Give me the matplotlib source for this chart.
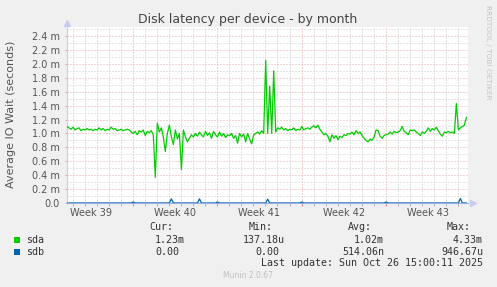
import matplotlib
matplotlib.use("Agg")
import matplotlib.pyplot as plt
import numpy as np
from matplotlib.ticker import FixedLocator, FuncFormatter

# ---------------- data ----------------
# time axis: days relative to Monday of week 40; samples every 4 hours
t_start = -5.48
samples_per_day = 6

sda = [1.10, 1.08, 1.06, 1.09, 1.05, 1.07, 1.08, 1.04, 1.06, 1.05,
       1.07, 1.05, 1.06, 1.04, 1.06, 1.05, 1.08, 1.05, 1.07, 1.04,
       1.06, 1.05, 1.09, 1.06, 1.07, 1.04, 1.05, 1.06, 1.04, 1.05,
       1.06, 1.05, 1.02, 1.00, 1.03, 0.98, 1.04, 1.02, 1.05, 0.97,
       1.03, 1.01, 1.04, 0.98, 0.37, 1.15, 1.02, 1.08, 0.95, 0.74,
       1.00, 1.12, 0.95, 0.84, 1.05, 0.92, 1.00, 0.48, 1.05, 0.95,
       0.88, 0.93, 0.98, 0.95, 1.00, 0.96, 1.02, 0.98, 0.95, 1.03,
       0.97, 1.01, 0.93, 1.03, 0.98, 0.95, 1.02, 0.96, 1.00, 0.94,
       0.98, 0.97, 1.00, 0.93, 0.97, 0.86, 1.00, 0.95, 0.99, 0.88,
       1.00, 0.92, 0.85, 0.98, 1.00, 1.02, 0.99, 1.04, 1.00, 2.05,
       1.00, 1.68, 1.00, 1.90, 1.02, 1.08, 1.06, 1.09, 1.05, 1.07,
       1.04, 1.06, 1.05, 1.08, 1.04, 1.06, 1.05, 1.10, 1.05, 1.07,
       1.08, 1.06, 1.09, 1.11, 1.08, 1.12, 1.06, 1.02, 0.98, 1.00,
       0.96, 0.88, 0.98, 0.93, 0.97, 0.91, 0.96, 0.94, 0.98, 0.97,
       1.00, 0.99, 1.02, 0.98, 1.04, 1.00, 1.02, 0.97, 0.93, 0.90,
       0.88, 0.92, 0.90, 0.95, 1.05, 1.04, 0.96, 0.93, 0.97, 0.98,
       0.99, 1.02, 0.99, 1.03, 1.01, 1.02, 1.04, 1.10, 1.03, 1.01,
       0.98, 1.05, 1.04, 1.05, 1.02, 1.00, 0.97, 1.02, 1.00, 1.03,
       1.08, 1.03, 1.07, 1.05, 1.09, 1.04, 0.99, 0.96, 1.02, 1.01,
       1.03, 1.01, 1.02, 1.00, 1.43, 1.05, 1.08, 1.10, 1.12, 1.23]

sdb = [0, 0, 0, 0, 0, 0, 0, 0, 0, 0, 0, 0, 0, 0, 0, 0, 0, 0, 0, 0,
       0, 0, 0, 0, 0, 0, 0, 0, 0, 0, 0, 0, 0, 0.015, 0, 0, 0, 0, 0, 0,
       0, 0, 0, 0, 0, 0, 0, 0, 0, 0, 0, 0, 0.06, 0, 0, 0, 0, 0, 0, 0,
       0, 0, 0, 0, 0, 0, 0.06, 0, 0, 0, 0, 0, 0, 0, 0, 0.015, 0, 0, 0, 0,
       0, 0, 0, 0, 0, 0, 0, 0, 0, 0, 0, 0, 0, 0, 0, 0, 0, 0, 0, 0,
       0.055, 0, 0, 0, 0, 0, 0, 0, 0, 0, 0, 0, 0, 0, 0, 0, 0, 0.015, 0, 0,
       0, 0, 0, 0, 0, 0, 0, 0, 0, 0, 0, 0, 0, 0, 0, 0, 0, 0, 0, 0,
       0, 0, 0, 0, 0, 0, 0, 0, 0, 0, 0, 0, 0, 0, 0, 0, 0, 0, 0, 0.015,
       0, 0, 0, 0, 0, 0, 0, 0, 0, 0, 0, 0, 0, 0, 0, 0, 0, 0, 0, 0,
       0, 0, 0, 0, 0, 0, 0, 0, 0, 0, 0, 0, 0, 0, 0, 0, 0.065, 0, 0, 0]

series_names = ["sda", "sdb"]
series_colors = ["#00CC00", "#0066B3"]
cur_vals = ["1.23m", "0.00"]
min_vals = ["137.18u", "0.00"]
avg_vals = ["1.02m", "514.06n"]
max_vals = ["4.33m", "946.67u"]
col_headers = ["Cur:", "Min:", "Avg:", "Max:"]

week_labels = ["Week 39", "Week 40", "Week 41", "Week 42", "Week 43"]
week_centers = [-3.5, 3.5, 10.5, 17.5, 24.5]
week_starts = [0, 7, 14, 21]
y_ticks = [0.0, 0.2, 0.4, 0.6, 0.8, 1.0, 1.2, 1.4, 1.6, 1.8, 2.0, 2.2, 2.4]

title = "Disk latency per device - by month"
ylabel = "Average IO Wait (seconds)"
last_update = "Last update: Sun Oct 26 15:00:11 2025"
footer = "Munin 2.0.67"
side_text = "RRDTOOL / TOBI OETIKER"

# ---------------- figure ----------------
W, H = 497, 287
fig = plt.figure(figsize=(W / 100, H / 100), dpi=100, facecolor="#F0F0F0")
L, R, T, B = 67, 468, 27, 203
ax = fig.add_axes([L / W, 1 - B / H, (R - L) / W, (B - T) / H])
ax.set_facecolor("white")

t = t_start + np.arange(len(sda)) / samples_per_day
ax.plot(t, sda, color=series_colors[0], lw=0.9, zorder=3)
ax.plot(t, sdb, color=series_colors[1], lw=0.9, zorder=4)

ax.set_xlim(-5.48, 27.82)
ax.set_ylim(0, 2.53)

# grid
days = np.arange(-5, 28)
ax.xaxis.set_major_locator(FixedLocator(week_starts))
ax.xaxis.set_minor_locator(FixedLocator([d for d in days if d not in week_starts]))
ax.yaxis.set_major_locator(FixedLocator(y_ticks))
ax.yaxis.set_minor_locator(FixedLocator([v + 0.1 for v in y_ticks]))
ax.grid(True, axis="x", which="major", color="#E8A0A0", lw=0.72, ls=(0, (1, 2)))
ax.grid(True, axis="x", which="minor", color="#C8C8C8", lw=0.72, ls=(0, (1, 2)))
ax.grid(True, axis="y", which="major", color="#E8A8A8", lw=0.72, ls=(0, (1, 2)))
ax.grid(True, axis="y", which="minor", color="#CCCCCC", lw=0.72, ls=(0, (1, 2)))
ax.set_axisbelow(True)

ax.set_xticklabels([])
ax.tick_params(axis="x", which="major", length=2.5, color="#E08080", width=0.7)
ax.tick_params(axis="x", which="minor", length=2, color="#B0B0B0", width=0.7)
ax.tick_params(axis="y", which="major", length=1.5, color="#E8A0A0", width=0.7,
               labelsize=7, labelcolor="#555555", pad=3.5)
ax.tick_params(axis="y", which="minor", length=0)
ax.yaxis.set_major_formatter(FuncFormatter(lambda v, p: "0.0" if v == 0 else f"{v:.1f} m"))

for sp in ["top", "right"]:
    ax.spines[sp].set_visible(False)
ax.spines["left"].set_color("#C8CCF0")
ax.spines["bottom"].set_color("#9AB0E0")
ax.spines["left"].set_linewidth(0.8)
ax.spines["bottom"].set_linewidth(0.8)
ax.plot([0], [1.025], marker="^", color="#C8CCF0", ms=4, transform=ax.transAxes, clip_on=False)
ax.plot([1.012], [0], marker=">", color="#C8CCF0", ms=4, transform=ax.transAxes, clip_on=False)

for lab, c in zip(week_labels, week_centers):
    ax.text(c, -0.055, lab, transform=ax.get_xaxis_transform(), ha="center", va="center",
            fontsize=7, color="#555555")

def fx(px):
    return px / W

def fy(py):
    return 1 - py / H

fig.text(fx(248), fy(19), title, ha="center", va="center", fontsize=9.0, color="#444444")
fig.text(fx(11), fy(114), ylabel, ha="center", va="center", rotation=90, fontsize=8.0, color="#555555")
fig.text(fx(488), fy(5), side_text, ha="center", va="top", rotation=270, fontsize=5.3, color="#C4C4C4")

mono = "DejaVu Sans Mono"
fs = 7.2
cw = 6.0  # char width in px
col_right = [185, 285, 384, 483]
row_y = [240, 252]
for hdr, xr in zip(col_headers, col_right):
    fig.text(fx(xr - 2 * cw), fy(227), hdr, ha="right", va="center", fontsize=fs, family=mono, color="#333333")
for i, (name, col) in enumerate(zip(series_names, series_colors)):
    y = row_y[i]
    fig.patches.append(plt.Rectangle((fx(14), fy(y + 3)), 6 / W, 6 / H, transform=fig.transFigure,
                                     facecolor=col, edgecolor="none"))
    fig.text(fx(26), fy(y), name, ha="left", va="center", fontsize=fs, family=mono, color="#333333")
    for vals, xr in zip([cur_vals, min_vals, avg_vals, max_vals], col_right):
        s = vals[i]
        off = 0 if s[-1].isalpha() else cw
        fig.text(fx(xr - off), fy(y), s, ha="right", va="center", fontsize=fs, family=mono, color="#333333")
fig.text(fx(483), fy(263), last_update, ha="right", va="center", fontsize=fs, family=mono, color="#333333")
fig.text(fx(248), fy(276), footer, ha="center", va="center", fontsize=5.5, color="#C0C0C0")

fig.savefig("out.png", dpi=100, facecolor=fig.get_facecolor())
